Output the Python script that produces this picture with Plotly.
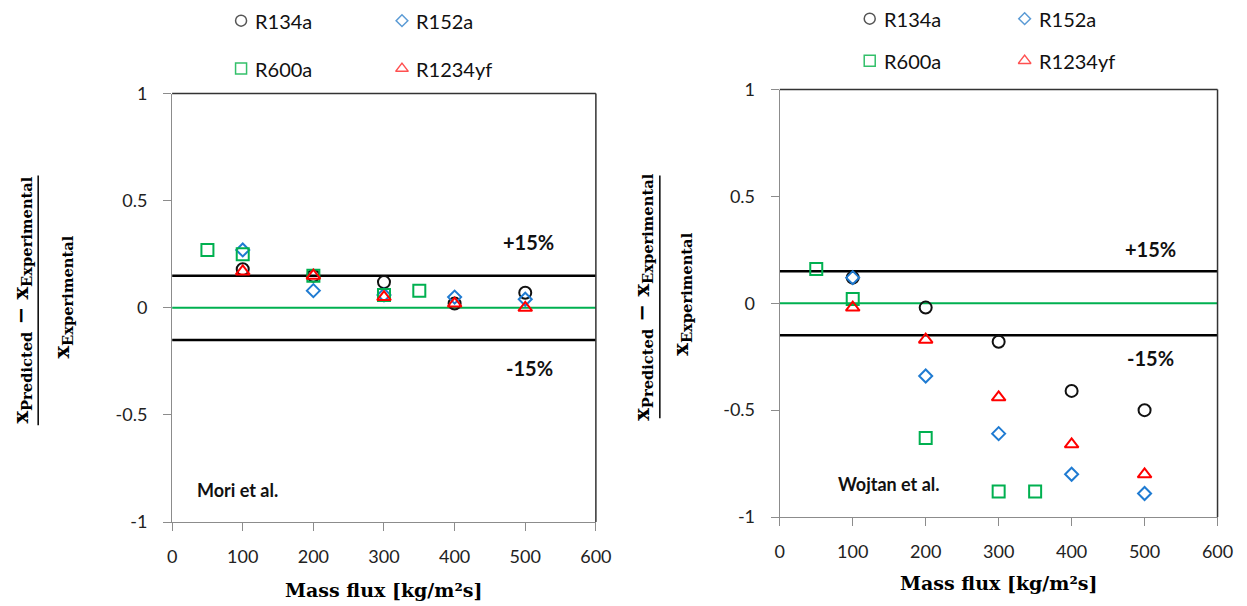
import plotly.graph_objects as go

# ---------------- data ----------------
# Mass flux values [kg/m2s] and relative deviation of predicted vs. experimental x
mori_g_r134a = [100, 200, 300, 400, 500]
mori_r134a = [0.18, 0.15, 0.12, 0.02, 0.07]
mori_g_r152a = [100, 200, 300, 400, 500]
mori_r152a = [0.27, 0.08, 0.06, 0.05, 0.04]
mori_g_r600a = [50, 100, 200, 300, 350]
mori_r600a = [0.27, 0.25, 0.15, 0.06, 0.08]
mori_g_r1234yf = [100, 200, 300, 400, 500]
mori_r1234yf = [0.17, 0.15, 0.05, 0.02, 0.00]

wojtan_g_r134a = [100, 200, 300, 400, 500]
wojtan_r134a = [0.12, -0.02, -0.18, -0.41, -0.50]
wojtan_g_r152a = [100, 200, 300, 400, 500]
wojtan_r152a = [0.12, -0.34, -0.61, -0.80, -0.89]
wojtan_g_r600a = [50, 100, 200, 300, 350]
wojtan_r600a = [0.16, 0.02, -0.63, -0.88, -0.88]
wojtan_g_r1234yf = [100, 200, 300, 400, 500]
wojtan_r1234yf = [-0.02, -0.17, -0.44, -0.66, -0.80]

refrigerants = ["R134a", "R152a", "R600a", "R1234yf"]
error_band = [0.15, -0.15]
band_labels = ["+15%", "-15%"]
x_range = [0, 600]
x_ticks = [0, 100, 200, 300, 400, 500, 600]
y_ticks = [-1, -0.5, 0, 0.5, 1]
y_tick_labels = ["-1", "-0.5", "0", "0.5", "1"]

# ---------------- styling ----------------
W, H = 1247, 606
symbols = {"R134a": "circle-open", "R152a": "diamond-open",
           "R600a": "square-open", "R1234yf": "triangle-up-open"}
colors = {"R134a": "#111111", "R152a": "#1f7bd2",
          "R600a": "#00b050", "R1234yf": "#ff0000"}
sizes = {"R134a": 12, "R152a": 10, "R600a": 12, "R1234yf": 12}
legend_colors = {"R134a": "#555555", "R152a": "#5b9bd5",
                 "R600a": "#33c06a", "R1234yf": "#ff5050"}
AXIS_GREY = "#8c8c8c"
TICK_FONT = dict(family="Lato", size=18, color="#222222")
SERIF = "DejaVu Serif"

# page-pixel -> layout-pixel correction (scale, offset) per direction
SX, BX = 0.9837, 3.8
SY, BY = 0.965, 11.3


def px(x):
    return ((x - BX) / SX) / W


def py(y):
    return 1 - ((y - BY) / SY) / H


def note(text, x, y, font, **kw):
    fig.add_annotation(x=px(x), y=py(y), xref="paper", yref="paper",
                       text=text, showarrow=False, xanchor=kw.pop("xanchor", "center"),
                       yanchor="middle", font=font, **kw)


fig = go.Figure()

panels = [
    ("x", "y", {
        "R134a": (mori_g_r134a, mori_r134a),
        "R152a": (mori_g_r152a, mori_r152a),
        "R600a": (mori_g_r600a, mori_r600a),
        "R1234yf": (mori_g_r1234yf, mori_r1234yf)}),
    ("x2", "y2", {
        "R134a": (wojtan_g_r134a, wojtan_r134a),
        "R152a": (wojtan_g_r152a, wojtan_r152a),
        "R600a": (wojtan_g_r600a, wojtan_r600a),
        "R1234yf": (wojtan_g_r1234yf, wojtan_r1234yf)}),
]

for xa, ya, series in panels:
    # +/-15 % band limits and zero line
    for b in error_band:
        fig.add_trace(go.Scatter(x=x_range, y=[b, b], mode="lines",
                                 line=dict(color="#000000", width=2.5),
                                 xaxis=xa, yaxis=ya, showlegend=False,
                                 hoverinfo="skip"))
    fig.add_trace(go.Scatter(x=x_range, y=[0, 0], mode="lines",
                             line=dict(color="#00b050", width=2),
                             xaxis=xa, yaxis=ya, showlegend=False,
                             hoverinfo="skip"))
    for name in refrigerants:
        g, dev = series[name]
        fig.add_trace(go.Scatter(
            x=g, y=dev, mode="markers", name=name, xaxis=xa, yaxis=ya,
            showlegend=False, cliponaxis=False,
            marker=dict(symbol=symbols[name], size=sizes[name],
                        color=colors[name],
                        line=dict(width=2, color=colors[name]))))

# Legends: drawn on a full-page overlay axis (paper fractions)
legend_pos = [
    {"R134a": (240, 20), "R152a": (401, 20), "R600a": (240, 68), "R1234yf": (401, 68)},
    {"R134a": (869, 18), "R152a": (1024, 18), "R600a": (869, 60), "R1234yf": (1024, 60)},
]
for pos in legend_pos:
    for name in refrigerants:
        mx, my = pos[name]
        fig.add_trace(go.Scatter(
            x=[px(mx)], y=[py(my)], mode="markers", xaxis="x3", yaxis="y3",
            showlegend=False, hoverinfo="skip", cliponaxis=False,
            marker=dict(symbol=symbols[name], size=sizes[name] - 1,
                        color=legend_colors[name],
                        line=dict(width=1.5, color=legend_colors[name]))))
        note(name, mx + 12, my, dict(family="Lato", size=20, color="#111111"),
             xanchor="left")

axis_common_x = dict(range=x_range, tickvals=x_ticks, showline=True,
                     linecolor=AXIS_GREY, linewidth=1.2, ticks="outside",
                     ticklen=8, tickcolor=AXIS_GREY, showgrid=False,
                     zeroline=False, tickfont=TICK_FONT, ticklabelstandoff=10)
axis_common_y = dict(range=[-1, 1], tickvals=y_ticks, ticktext=y_tick_labels,
                     showline=True, linecolor=AXIS_GREY, linewidth=1.2,
                     ticks="outside", ticklen=8, tickcolor=AXIS_GREY,
                     showgrid=False, zeroline=False, tickfont=TICK_FONT,
                     ticklabelstandoff=12)

fig.update_layout(
    width=W, height=H, margin=dict(l=0, r=0, t=0, b=0),
    paper_bgcolor="white", plot_bgcolor="rgba(0,0,0,0)", showlegend=False,
    xaxis=dict(domain=[px(171), px(595)], anchor="y", **axis_common_x),
    yaxis=dict(domain=[py(522), py(93)], anchor="x", **axis_common_y),
    xaxis2=dict(domain=[px(779), px(1217)], anchor="y2", **axis_common_x),
    yaxis2=dict(domain=[py(517), py(89)], anchor="x2", **axis_common_y),
    xaxis3=dict(domain=[0, 1], range=[0, 1], visible=False, anchor="y3",
                fixedrange=True),
    yaxis3=dict(domain=[0, 1], range=[0, 1], visible=False, anchor="x3",
                fixedrange=True),
)

# Dark top/right frame lines of both plot areas
for xd, yd in (("x domain", "y domain"), ("x2 domain", "y2 domain")):
    fig.add_shape(type="line", xref=xd, yref=yd, x0=0, x1=1, y0=1, y1=1,
                  line=dict(color="#333333", width=1.5))
    fig.add_shape(type="line", xref=xd, yref=yd, x0=1, x1=1, y0=0, y1=1,
                  line=dict(color="#333333", width=1.5))

# Band labels and source labels
bold_font = dict(family="Lato", size=20, color="#111111")
for (x, y, t) in [(528, 242, band_labels[0]), (529, 368, band_labels[1]),
                  (1150, 249, band_labels[0]), (1150, 358, band_labels[1])]:
    note(f"<b>{t}</b>", x, y, bold_font)
note("<b>Mori et al.</b>", 236, 490, dict(family="Lato", size=18, color="#111111"))
note("<b>Wojtan et al.</b>", 888, 484, dict(family="Lato", size=18, color="#111111"))

# Axis titles
title_font = dict(family=SERIF, size=19, color="#000000")
for cx, cy in ((383, 590), (998, 583)):
    note("<b>Mass flux [kg/m²s]</b>", cx, cy, title_font)

frac_font = dict(family=SERIF, size=21, color="#000000")
numerator = "<b>x<sub>Predicted</sub> − x<sub>Experimental</sub></b>"
denominator = "<b>x<sub>Experimental</sub></b>"
for nx, dx, lx, ytop, ybot in ((20, 61, 37, 175, 425), (642, 681, 659, 175, 418)):
    cy = (ytop + ybot) / 2
    note(numerator, nx, cy, frac_font, textangle=-90)
    note(denominator, dx, cy - 3, frac_font, textangle=-90)
    fig.add_shape(type="line", xref="paper", yref="paper",
                  x0=px(lx), x1=px(lx), y0=py(ytop), y1=py(ybot),
                  line=dict(color="#000000", width=1.5))

fig.write_html("out.html")
